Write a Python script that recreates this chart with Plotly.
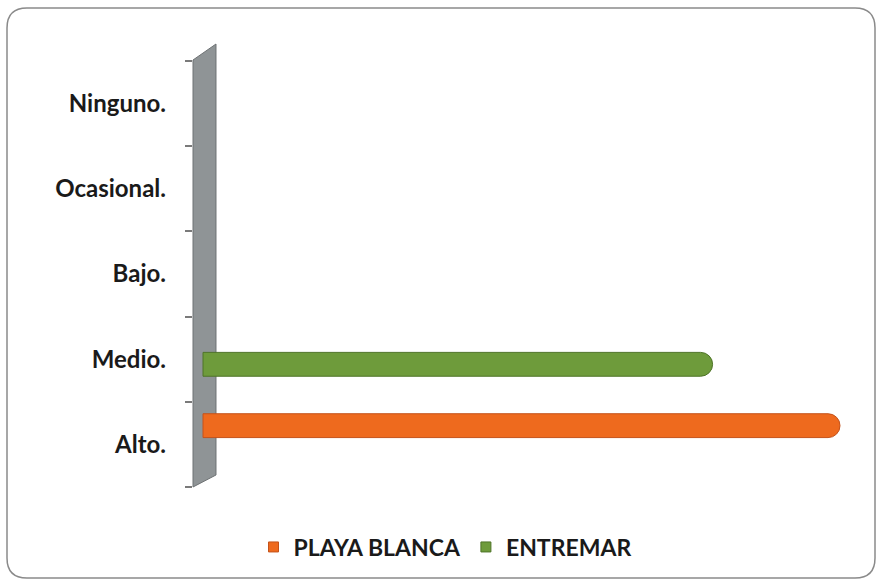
import plotly.graph_objects as go

categories = ["Alto.", "Medio.", "Bajo.", "Ocasional.", "Ninguno."]
playa_blanca = [100, 0, 0, 0, 0]
entremar = [0, 80, 0, 0, 0]
series_names = ["PLAYA BLANCA", "ENTREMAR"]
series_colors = ["#EE6A1E", "#6E9B3B"]
edge_colors = ["#C4521A", "#4F7428"]

W, H = 879, 583
ML, MR, MT, MB = 193, 29, 61, 96
PW, PH = W - ML - MR, H - MT - MB


def px(x):
    return (x - ML) / PW


def py(y):
    return (H - MB - y) / PH


fig = go.Figure()
for vals, name, col, edge, off in zip([playa_blanca, entremar], series_names,
                                      series_colors, edge_colors, [0.08, -0.2]):
    fig.add_trace(go.Bar(
        y=categories, x=[v if v else None for v in vals], orientation="h",
        name=name, width=0.28, offset=off, showlegend=False, legendgroup=name,
        marker=dict(color=col, line=dict(color=edge, width=1), cornerradius=12),
    ))
for name, col, edge in zip(series_names, series_colors, edge_colors):
    fig.add_trace(go.Scatter(
        x=[None], y=[None], mode="markers", name=name, legendgroup=name,
        marker=dict(symbol="square", size=10, color=col, line=dict(color=edge, width=1)),
    ))

# 3D wall
wall = "M {:.4f},{:.4f} L {:.4f},{:.4f} L {:.4f},{:.4f} L {:.4f},{:.4f} Z".format(
    px(193), py(60), px(216), py(44), px(216), py(475), px(193), py(487))
fig.add_shape(type="path", path=wall, xref="paper", yref="paper",
              fillcolor="#8F9496", line=dict(color="#6E7274", width=1), layer="below")

# rounded outer border
x0, x1, y0, y1, r = 7, 875, 8, 578, 20
border = ("M {a},{b} L {c},{b} Q {d},{b} {d},{e} L {d},{f} Q {d},{g} {c},{g} "
          "L {a},{g} Q {h},{g} {h},{f} L {h},{e} Q {h},{b} {a},{b} Z").format(
    a=px(x0 + r), b=py(y0), c=px(x1 - r), d=px(x1), e=py(y0 + r),
    f=py(y1 - r), g=py(y1), h=px(x0))
fig.add_shape(type="path", path=border, xref="paper", yref="paper",
              line=dict(color="#8A8A8A", width=1.5), layer="below")

xmin = -(203 - ML) / 6.37
xmax = (W - MR - 203) / 6.37
fig.update_layout(
    width=W, height=H,
    margin=dict(l=ML, r=MR, t=MT, b=MB),
    paper_bgcolor="white", plot_bgcolor="white",
    barmode="overlay",
    font=dict(family="Lato", size=24, color="#1a1a1a"),
    xaxis=dict(range=[xmin, xmax], showgrid=False, zeroline=False,
               showticklabels=False, showline=False, ticks=""),
    yaxis=dict(type="category", categoryorder="array", categoryarray=categories,
               range=[-0.5, 4.5], tickson="boundaries", ticks="outside",
               ticklen=7, tickwidth=1.5, tickcolor="#7A7A7A",
               showgrid=False, zeroline=False, showline=False,
               ticklabelstandoff=26,
               tickfont=dict(family="Lato", size=24, color="#1a1a1a", weight="bold")),
    showlegend=True,
    legend=dict(orientation="h", xref="container", yref="container",
                x=445 / W, xanchor="center", y=1 - 547 / H, yanchor="middle",
                font=dict(family="Lato", size=23, color="#1a1a1a", weight="bold"),
                itemwidth=30, traceorder="normal"),
)
fig.write_html("out.html", config={"displayModeBar": False},
               post_script="document.body.style.margin='0';")
